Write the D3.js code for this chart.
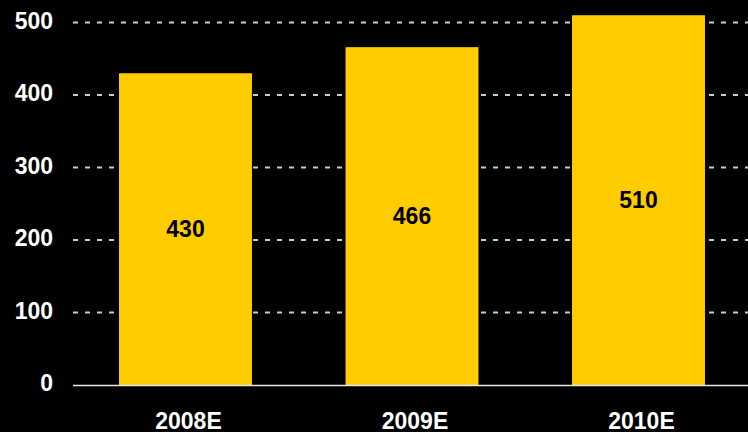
<!DOCTYPE html>
<html><head><meta charset="utf-8">
<script src="https://cdn.jsdelivr.net/npm/d3@7"></script>
<style>html,body{margin:0;padding:0;background:#000;}svg{display:block;}</style>
</head><body>
<script>
const categories = ["2008E", "2009E", "2010E"];
const values = [430, 466, 510];
const yTicks = [0, 100, 200, 300, 400, 500];

const W = 748, H = 432;
const svg = d3.select("body").append("svg").attr("width", W).attr("height", H)
  .style("background", "#000");
svg.append("rect").attr("width", W).attr("height", H).attr("fill", "#000");

const y = d3.scaleLinear().domain([0, 500]).range([385, 22.5]);
const x = d3.scaleBand().domain(categories).range([72.25, 751.75]).paddingInner(0.413).paddingOuter(0.2065).align(0.5);
const font = "'Liberation Sans', Arial, sans-serif";

// gridlines
svg.append("g").selectAll("line").data(yTicks.filter(d => d > 0)).join("line")
  .attr("x1", 73).attr("x2", W)
  .attr("y1", d => y(d)).attr("y2", d => y(d))
  .attr("stroke", "#cccccc").attr("stroke-width", 2).attr("stroke-dasharray", "5,7");

// bars
svg.append("g").selectAll("rect").data(values).join("rect")
  .attr("x", (d, i) => x(categories[i])).attr("width", x.bandwidth())
  .attr("y", d => y(d)).attr("height", d => y(0) - y(d))
  .attr("fill", "#FFCC00");

// baseline
svg.append("line").attr("x1", 73).attr("x2", W).attr("y1", y(0) + 0.5).attr("y2", y(0) + 0.5)
  .attr("stroke", "#e6e6e6").attr("stroke-width", 1.5);

// value labels
svg.append("g").selectAll("text").data(values).join("text")
  .attr("x", (d, i) => x(categories[i]) + x.bandwidth() / 2)
  .attr("y", d => (y(d) + y(0)) / 2)
  .attr("dy", "0.35em").attr("text-anchor", "middle")
  .attr("font-family", font).attr("font-weight", "bold").attr("font-size", 23)
  .attr("fill", "#000").text(d => d);

// y axis labels
svg.append("g").selectAll("text").data(yTicks).join("text")
  .attr("x", 53).attr("y", d => y(d) - 2)
  .attr("dy", "0.35em").attr("text-anchor", "end")
  .attr("font-family", font).attr("font-weight", "bold").attr("font-size", 23)
  .attr("fill", "#fff").text(d => d);

// x axis labels
svg.append("g").selectAll("text").data(categories).join("text")
  .attr("x", d => x(d) + x.bandwidth() / 2 + 3)
  .attr("y", 429)
  .attr("text-anchor", "middle")
  .attr("font-family", font).attr("font-weight", "bold").attr("font-size", 23)
  .attr("fill", "#fff").text(d => d);
</script>
</body></html>
